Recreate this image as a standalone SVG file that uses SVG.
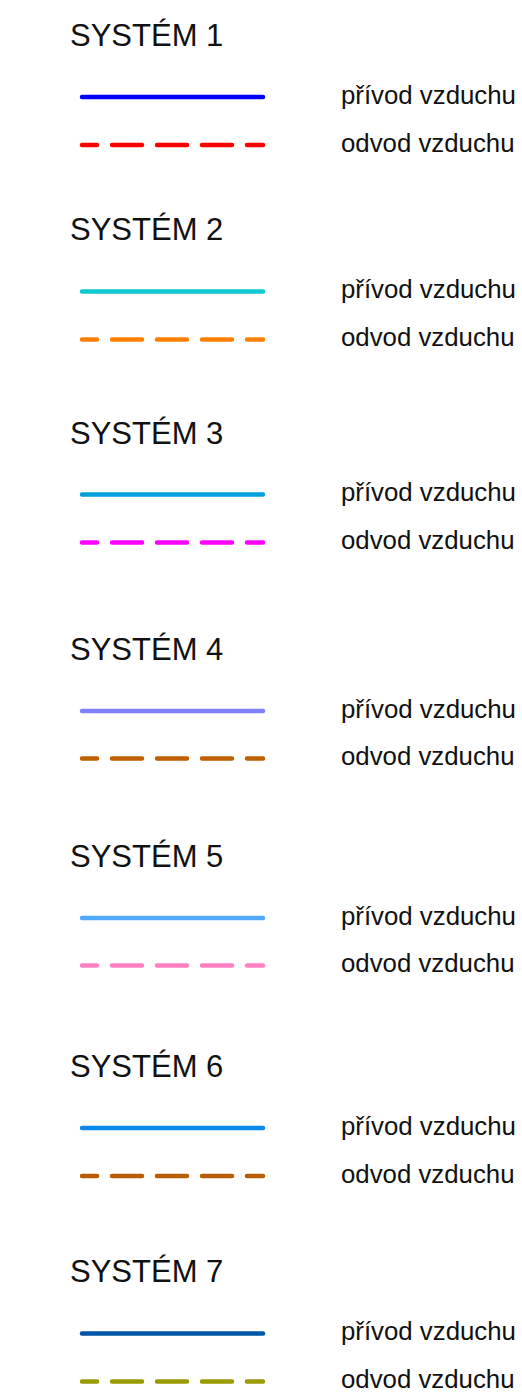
<svg xmlns="http://www.w3.org/2000/svg" width="522" height="1394" viewBox="0 0 522 1394">
<style>
.title{font-family:"Liberation Sans",Arial,sans-serif;font-size:31px;fill:#111}
.lbl{font-family:"Liberation Sans",Arial,sans-serif;font-size:25.8px;fill:#111}
.sup{fill:none;stroke-width:4.5;stroke-linecap:round}
.ret{fill:none;stroke-width:4.5;stroke-linecap:round;stroke-dasharray:30 15;stroke-dashoffset:15}
</style>
<rect width="522" height="1394" fill="#fff"/>
<g id="system1">
<text class="title" x="70" y="46">SYSTÉM 1</text>
<line class="sup" x1="82" y1="97" x2="263" y2="97" stroke="#0000ff"/>
<line class="ret" x1="82" y1="145" x2="263" y2="145" stroke="#ff0000"/>
<text class="lbl" x="341" y="103.5">přívod vzduchu</text>
<text class="lbl" x="341" y="151.5">odvod vzduchu</text>
</g>
<g id="system2">
<text class="title" x="70" y="240">SYSTÉM 2</text>
<line class="sup" x1="82" y1="291.5" x2="263" y2="291.5" stroke="#10c8d0"/>
<line class="ret" x1="82" y1="339.5" x2="263" y2="339.5" stroke="#ff8000"/>
<text class="lbl" x="341" y="298">přívod vzduchu</text>
<text class="lbl" x="341" y="346">odvod vzduchu</text>
</g>
<g id="system3">
<text class="title" x="70" y="444">SYSTÉM 3</text>
<line class="sup" x1="82" y1="494.5" x2="263" y2="494.5" stroke="#00a0dc"/>
<line class="ret" x1="82" y1="542.5" x2="263" y2="542.5" stroke="#ff00ff"/>
<text class="lbl" x="341" y="501">přívod vzduchu</text>
<text class="lbl" x="341" y="549">odvod vzduchu</text>
</g>
<g id="system4">
<text class="title" x="70" y="660">SYSTÉM 4</text>
<line class="sup" x1="82" y1="711" x2="263" y2="711" stroke="#8080ff"/>
<line class="ret" x1="82" y1="758.5" x2="263" y2="758.5" stroke="#c06000"/>
<text class="lbl" x="341" y="717.5">přívod vzduchu</text>
<text class="lbl" x="341" y="765">odvod vzduchu</text>
</g>
<g id="system5">
<text class="title" x="70" y="867">SYSTÉM 5</text>
<line class="sup" x1="82" y1="918" x2="263" y2="918" stroke="#50a8ff"/>
<line class="ret" x1="82" y1="965.5" x2="263" y2="965.5" stroke="#ff80c0"/>
<text class="lbl" x="341" y="924.5">přívod vzduchu</text>
<text class="lbl" x="341" y="972">odvod vzduchu</text>
</g>
<g id="system6">
<text class="title" x="70" y="1077">SYSTÉM 6</text>
<line class="sup" x1="82" y1="1128" x2="263" y2="1128" stroke="#0a88ec"/>
<line class="ret" x1="82" y1="1176" x2="263" y2="1176" stroke="#b85c00"/>
<text class="lbl" x="341" y="1134.5">přívod vzduchu</text>
<text class="lbl" x="341" y="1182.5">odvod vzduchu</text>
</g>
<g id="system7">
<text class="title" x="70" y="1282">SYSTÉM 7</text>
<line class="sup" x1="82" y1="1333.5" x2="263" y2="1333.5" stroke="#0055a8"/>
<line class="ret" x1="82" y1="1381.5" x2="263" y2="1381.5" stroke="#999900"/>
<text class="lbl" x="341" y="1340">přívod vzduchu</text>
<text class="lbl" x="341" y="1388">odvod vzduchu</text>
</g>
</svg>
